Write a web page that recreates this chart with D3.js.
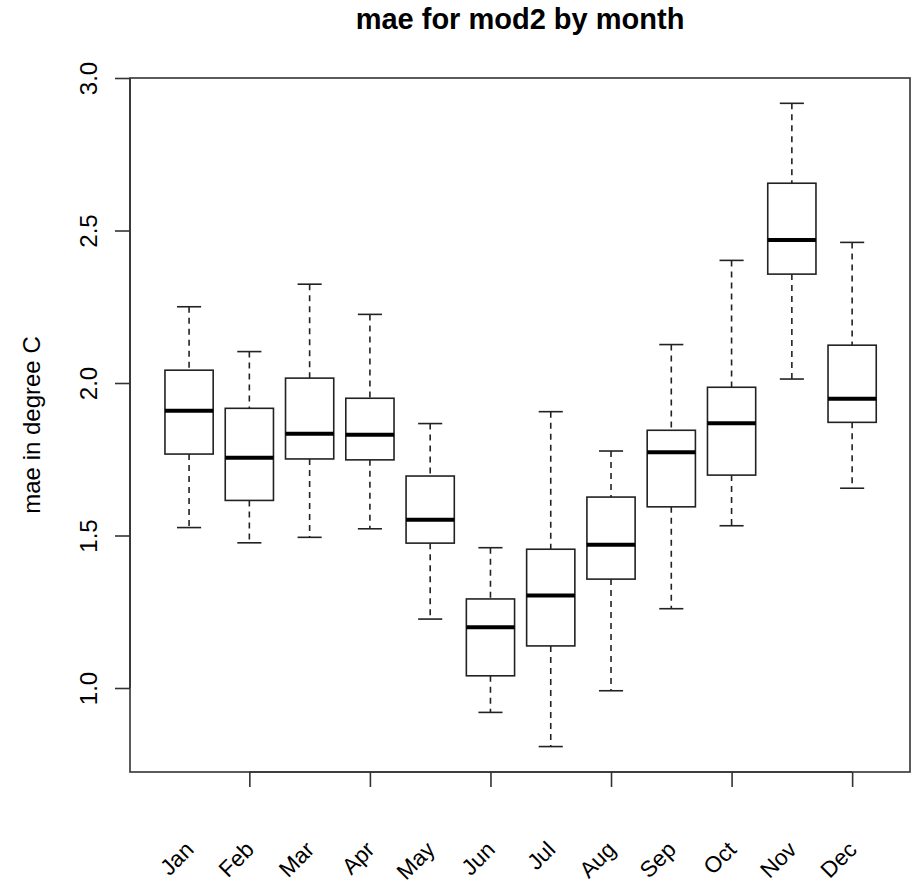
<!DOCTYPE html>
<html>
<head>
<meta charset="utf-8">
<script src="https://cdn.jsdelivr.net/npm/d3@7"></script>
<style>
  body { margin: 0; background: #fff; }
  text { font-family: "Liberation Sans", Arial, Helvetica, sans-serif; fill: #000; }
</style>
</head>
<body>
<div id="viz"></div>
<script>
// boxplot stats, one value per month
var months = ["Jan","Feb","Mar","Apr","May","Jun","Jul","Aug","Sep","Oct","Nov","Dec"]
var lowWhisker = [1.526, 1.476, 1.494, 1.522, 1.226, 0.920, 0.808, 0.991, 1.260, 1.532, 2.013, 1.655]
var q1         = [1.767, 1.615, 1.751, 1.748, 1.475, 1.040, 1.138, 1.357, 1.594, 1.698, 2.357, 1.871]
var medians    = [1.909, 1.755, 1.834, 1.830, 1.552, 1.199, 1.303, 1.470, 1.773, 1.868, 2.469, 1.948]
var q3         = [2.042, 1.917, 2.016, 1.950, 1.695, 1.292, 1.455, 1.626, 1.845, 1.986, 2.655, 2.124]
var highWhisker = [2.250, 2.103, 2.324, 2.225, 1.867, 1.460, 1.906, 1.777, 2.126, 2.402, 2.917, 2.461]
var yTicks = [1.0, 1.5, 2.0, 2.5, 3.0]
var xTickMonths = [2, 4, 6, 8, 10, 12]

var data = months.map(function(m, i) {
  return {month: m, pos: i + 1, lo: lowWhisker[i], q1: q1[i], med: medians[i], q3: q3[i], hi: highWhisker[i]}
})

var width = 916, height = 888
var margin = {top: 78, right: 6, bottom: 116, left: 130}

var svg = d3.select("#viz")
  .append("svg")
  .attr("width", width)
  .attr("height", height)

// scales
var xScale = d3.scaleLinear()
  .domain([0.02, 12.96])
  .range([margin.left, width - margin.right])

var yScale = d3.scaleLinear()
  .domain([0.7246, 3.0])
  .range([height - margin.bottom, margin.top])

var boxHalf = (xScale(1.4) - xScale(1))
var capHalf = boxHalf / 2

// boxes
var g = svg.selectAll(".month-g")
  .data(data)
  .join("g")
  .attr("class", "month-g")

// whiskers
g.append("line")
  .attr("x1", function(d) { return xScale(d.pos) })
  .attr("x2", function(d) { return xScale(d.pos) })
  .attr("y1", function(d) { return yScale(d.hi) })
  .attr("y2", function(d) { return yScale(d.q3) })
  .style("stroke", "#222").style("stroke-width", 1.6).style("stroke-dasharray", "6,5")
g.append("line")
  .attr("x1", function(d) { return xScale(d.pos) })
  .attr("x2", function(d) { return xScale(d.pos) })
  .attr("y1", function(d) { return yScale(d.q1) })
  .attr("y2", function(d) { return yScale(d.lo) })
  .style("stroke", "#222").style("stroke-width", 1.6).style("stroke-dasharray", "6,5")

// staples
g.append("line")
  .attr("x1", function(d) { return xScale(d.pos) - capHalf })
  .attr("x2", function(d) { return xScale(d.pos) + capHalf })
  .attr("y1", function(d) { return yScale(d.hi) })
  .attr("y2", function(d) { return yScale(d.hi) })
  .style("stroke", "#222").style("stroke-width", 1.6)
g.append("line")
  .attr("x1", function(d) { return xScale(d.pos) - capHalf })
  .attr("x2", function(d) { return xScale(d.pos) + capHalf })
  .attr("y1", function(d) { return yScale(d.lo) })
  .attr("y2", function(d) { return yScale(d.lo) })
  .style("stroke", "#222").style("stroke-width", 1.6)

g.append("rect")
  .attr("x", function(d) { return xScale(d.pos) - boxHalf })
  .attr("y", function(d) { return yScale(d.q3) })
  .attr("width", boxHalf * 2)
  .attr("height", function(d) { return yScale(d.q1) - yScale(d.q3) })
  .style("fill", "white")
  .style("stroke", "#222")
  .style("stroke-width", 1.6)

// medians
g.append("line")
  .attr("x1", function(d) { return xScale(d.pos) - boxHalf })
  .attr("x2", function(d) { return xScale(d.pos) + boxHalf })
  .attr("y1", function(d) { return yScale(d.med) })
  .attr("y2", function(d) { return yScale(d.med) })
  .style("stroke", "#000").style("stroke-width", 4)

// frame
svg.append("rect")
  .attr("x", margin.left)
  .attr("y", margin.top)
  .attr("width", width - margin.left - margin.right)
  .attr("height", height - margin.top - margin.bottom)
  .style("fill", "none")
  .style("stroke", "#333")
  .style("stroke-width", 1.6)

// y axis, labels turned like R does
var yAxis = svg.append("g")
  .attr("transform", "translate(" + margin.left + ",0)")
  .call(d3.axisLeft(yScale).tickValues(yTicks).tickSize(15).tickFormat(d3.format(".1f")))
yAxis.select(".domain").attr("d", "M0," + yScale(1) + "V" + yScale(3)).style("stroke", "#333").style("stroke-width", 1.6)
yAxis.selectAll(".tick line").style("stroke", "#333").style("stroke-width", 1.6)
yAxis.selectAll(".tick text")
  .attr("x", null).attr("dy", null)
  .attr("text-anchor", "middle")
  .attr("transform", "translate(-33,0) rotate(-90)")
  .style("font-size", "24px")
  .style("font-family", "'Liberation Sans', Arial, sans-serif")

// x axis: ticks on every other month
var xAxis = svg.append("g")
  .attr("transform", "translate(0," + (height - margin.bottom) + ")")
  .call(d3.axisBottom(xScale).tickValues(xTickMonths).tickSize(15).tickFormat(""))
xAxis.select(".domain").attr("d", "M" + xScale(2) + ",0H" + xScale(12)).style("stroke", "#333").style("stroke-width", 1.6)
xAxis.selectAll(".tick line").style("stroke", "#333").style("stroke-width", 1.6)

// slanted month names
svg.selectAll(".month-label")
  .data(data)
  .join("text")
  .attr("class", "month-label")
  .attr("text-anchor", "end")
  .attr("transform", function(d) { return "translate(" + (xScale(d.pos) + 6) + ",851) rotate(-45)" })
  .style("font-size", "22.5px")
  .text(function(d) { return d.month })

// axis title
svg.append("text")
  .attr("transform", "translate(40," + ((margin.top + height - margin.bottom) / 2) + ") rotate(-90)")
  .attr("text-anchor", "middle")
  .style("font-size", "24px")
  .text("mae in degree C")

// title
svg.append("text")
  .attr("x", (margin.left + width - margin.right) / 2)
  .attr("y", 29)
  .attr("text-anchor", "middle")
  .style("font-size", "29px")
  .style("font-weight", "bold")
  .text("mae for mod2 by month")
</script>
</body>
</html>
